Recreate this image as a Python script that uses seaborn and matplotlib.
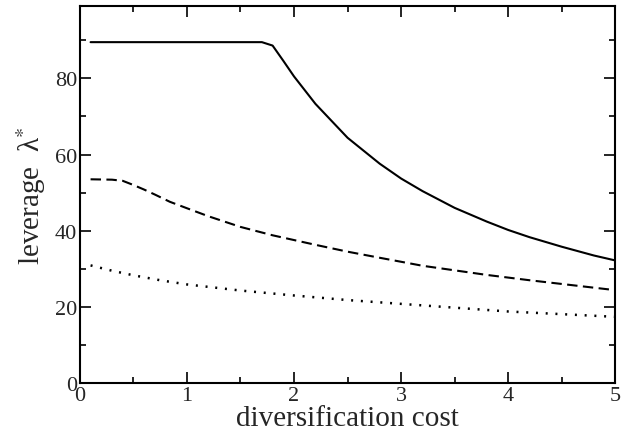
import matplotlib
matplotlib.use("Agg")
import matplotlib.pyplot as plt
from matplotlib.ticker import MultipleLocator
import seaborn as sns
import pandas as pd

# values
solid_x = [0.1, 0.5, 1.0, 1.5, 1.7, 1.8, 1.9, 2.0, 2.2, 2.5, 2.8, 3.0, 3.2, 3.5, 3.8, 4.0, 4.2, 4.5, 4.8, 5.0]
solid_y = [89.5, 89.5, 89.5, 89.5, 89.5, 88.6, 84.6, 80.5, 73.3, 64.4, 57.6, 53.7, 50.4, 46.0, 42.4, 40.2, 38.3, 35.8, 33.5, 32.2]

dashed_x = [0.1, 0.3, 0.4, 0.5, 0.6, 0.7, 0.84, 1.0, 1.2, 1.5, 1.8, 2.2, 2.5, 2.8, 3.2, 3.5, 3.8, 4.2, 4.6, 5.0]
dashed_y = [53.5, 53.4, 53.1, 52.0, 50.8, 49.5, 47.6, 45.9, 43.8, 41.0, 38.8, 36.3, 34.5, 32.9, 30.8, 29.6, 28.4, 27.0, 25.7, 24.4]

dotted_x = [0.1, 0.3, 0.5, 0.75, 1.0, 1.25, 1.5, 2.0, 2.5, 3.0, 3.5, 4.0, 4.5, 5.0]
dotted_y = [30.9, 29.5, 28.3, 27.0, 25.9, 25.1, 24.3, 23.0, 21.8, 20.8, 19.8, 18.8, 18.1, 17.4]

sns.set_style("ticks")
plt.rcParams["font.family"] = ["Liberation Serif", "DejaVu Serif"]
plt.rcParams["mathtext.fontset"] = "stix"

fig, ax = plt.subplots(figsize=(6.24, 4.35), dpi=100)
fig.subplots_adjust(left=0.128, right=0.986, top=0.984, bottom=0.117)

solid = pd.DataFrame({"x": solid_x, "y": solid_y})
dashed = pd.DataFrame({"x": dashed_x, "y": dashed_y})
dotted = pd.DataFrame({"x": dotted_x, "y": dotted_y})

sns.lineplot(data=solid, x="x", y="y", ax=ax, color="black", linewidth=1.5)
sns.lineplot(data=dashed, x="x", y="y", ax=ax, color="black", linewidth=1.5,
             linestyle=(0, (5, 2.6)))
sns.lineplot(data=dotted, x="x", y="y", ax=ax, color="black", linewidth=1.8,
             linestyle=(0, (0.8, 3.1)))

ax.set_xlim(0, 5)
ax.set_ylim(0, 99)
ax.xaxis.set_major_locator(MultipleLocator(1))
ax.xaxis.set_minor_locator(MultipleLocator(0.5))
ax.yaxis.set_major_locator(MultipleLocator(20))
ax.yaxis.set_minor_locator(MultipleLocator(10))
ax.tick_params(which="both", direction="in", top=True, right=True,
               color="black", width=1.2)
ax.tick_params(which="major", length=8, labelsize=16, pad=2)
ax.tick_params(which="minor", length=4)
for s in ax.spines.values():
    s.set_linewidth(1.5)
    s.set_color("black")

ax.set_xlabel("diversification cost", fontsize=21, labelpad=0)
ax.set_ylabel("leverage  λ$^{*}$", fontsize=21, labelpad=5)

plt.savefig("out.png", dpi=100)
plt.close()
